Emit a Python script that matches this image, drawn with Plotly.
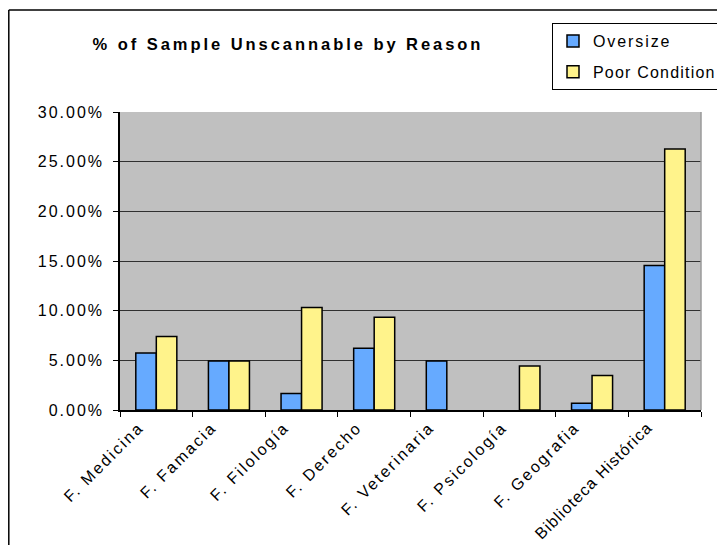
import plotly.graph_objects as go

categories = ["F. Medicina", "F. Famacia", "F. Filología", "F. Derecho",
              "F. Veterinaria", "F. Psicología", "F. Geografia", "Biblioteca Histórica"]
# None = no bar drawn (0%)
oversize = [0.0575, 0.0494, 0.0166, 0.0621, 0.0494, None, 0.0068, 0.1455]
poor_condition = [0.0739, 0.0494, 0.1033, 0.0933, None, 0.0444, 0.0347, 0.2628]
y_ticks = [0.0, 0.05, 0.10, 0.15, 0.20, 0.25, 0.30]
y_tick_labels = ["0.00%", "5.00%", "10.00%", "15.00%", "20.00%", "25.00%", "30.00%"]
title_text = "% of Sample Unscannable by Reason"


def sp(text, ls):
    return f'<span style="letter-spacing:{ls}px">{text}</span>'


# letter spacing used to mimic the horizontally stretched text of the original
def xlabel(text):
    return sp(text, 1.1 if len(text) > 16 else 2.2)


FONT = "Liberation Sans, Arial, sans-serif"

fig = go.Figure()
fig.add_trace(go.Bar(
    x=categories, y=oversize, name=sp("Oversize", 1.9), legendgroup="a",
    marker=dict(color="#66AAFF", line=dict(color="black", width=1.5)),
))
fig.add_trace(go.Bar(
    x=categories, y=poor_condition, name=sp("Poor Condition", 1.2), legendgroup="b",
    marker=dict(color="#FFF38B", line=dict(color="black", width=1.5)),
))

# the page has an 8px body margin, so figure coords = page coords - 8
W, H = 717, 537
L, R, T, B = 112, 24, 104, 135
pw, ph = W - L - R, H - T - B


def px_x(x):
    return (x - L) / pw


def px_y(y):
    return (H - B - y) / ph


fig.update_layout(
    width=W, height=H,
    margin=dict(l=L, r=R, t=T, b=B, pad=0, autoexpand=False),
    paper_bgcolor="white",
    plot_bgcolor="#C0C0C0",
    font=dict(family=FONT, size=16, color="black"),
    barmode="group",
    bargap=0.435,
    bargroupgap=0,
    title=dict(
        text="<b>" + sp(title_text, 2.95) + "</b>",
        font=dict(family=FONT, size=16.5, color="black"),
        xref="container", yref="container",
        x=280 / W, y=1 - 36 / H, xanchor="center", yanchor="middle",
    ),
    legend=dict(
        xref="container", yref="container",
        x=544 / W, y=1 - 15 / H, xanchor="left", yanchor="top",
        bgcolor="white", bordercolor="black", borderwidth=1,
        font=dict(family=FONT, size=16, color="black"),
        tracegroupgap=7,
        traceorder="grouped",
        itemwidth=30,
    ),
    xaxis=dict(
        type="category",
        tickvals=categories,
        ticktext=[xlabel(c) for c in categories],
        tickangle=-45,
        ticks="outside", ticklen=5, tickcolor="black", tickson="boundaries",
        showline=True, linecolor="black", linewidth=1.5,
        showgrid=False, automargin=False,
        tickfont=dict(family=FONT, size=16, color="black"),
        ticklabelshift=-17,
    ),
    yaxis=dict(
        range=[0, 0.30],
        tickvals=y_ticks,
        ticktext=[sp(t, 2.0) for t in y_tick_labels],
        ticks="outside", ticklen=5, tickcolor="black",
        showline=True, linecolor="black", linewidth=1.5,
        showgrid=True, gridcolor="#303030", gridwidth=1,
        zeroline=False, automargin=False,
        tickfont=dict(family=FONT, size=16, color="black"),
        ticklabelstandoff=6,
    ),
    shapes=[
        dict(type="line", xref="paper", yref="paper", x0=1, x1=1, y0=0, y1=1,
             line=dict(color="#9A9A9A", width=1.5), layer="above"),
        # outer chart frame (left and top edges visible in the reference)
        dict(type="line", xref="paper", yref="paper",
             x0=px_x(0.8), x1=px_x(0.8), y0=px_y(2), y1=px_y(H + 10),
             line=dict(color="black", width=1.5), layer="above"),
        dict(type="line", xref="paper", yref="paper",
             x0=px_x(0.8), x1=px_x(W + 10), y0=px_y(2), y1=px_y(2),
             line=dict(color="black", width=1.5), layer="above"),
    ],
)

fig.write_html("out.html")
